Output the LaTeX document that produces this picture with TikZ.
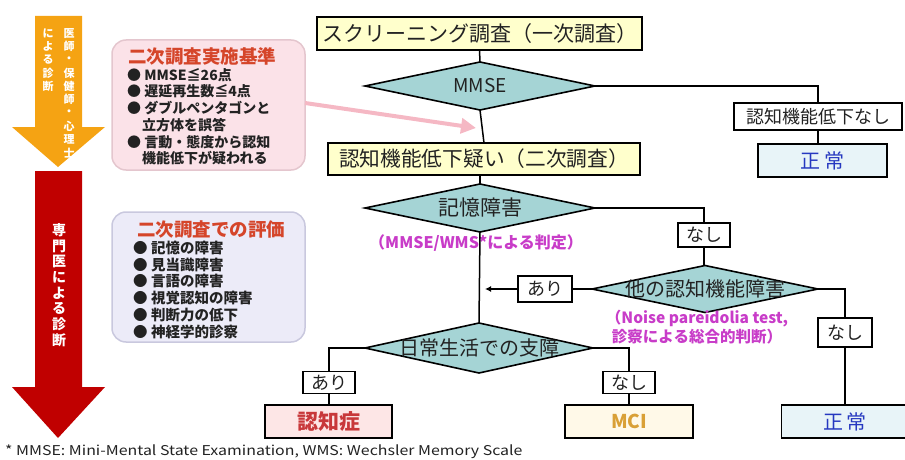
\documentclass[tikz,border=0pt]{standalone}
\usepackage{fontspec}
\setmainfont{Noto Sans CJK JP}
\usetikzlibrary{shapes.geometric,arrows.meta}
\definecolor{orangeA}{HTML}{F5A313}
\definecolor{redA}{HTML}{C00000}
\definecolor{diaF}{HTML}{A5D4D5}
\definecolor{yelF}{HTML}{FFFFCC}
\definecolor{bluF}{HTML}{E8F4F8}
\definecolor{bluT}{HTML}{2638C0}
\definecolor{pnkF}{HTML}{FDE6E6}
\definecolor{redT}{HTML}{C8383A}
\definecolor{mciF}{HTML}{FFF9E8}
\definecolor{mciT}{HTML}{D9A036}
\definecolor{magT}{HTML}{C83CC8}
\definecolor{boxP}{HTML}{FBE2E8}
\definecolor{boxPb}{HTML}{E4C6CE}
\definecolor{boxL}{HTML}{ECEBF8}
\definecolor{boxLb}{HTML}{C9C8DE}
\definecolor{ttlR}{HTML}{D5452A}
\definecolor{arrP}{HTML}{F5B8C4}
\definecolor{txt}{HTML}{222222}
\begin{document}
\begin{tikzpicture}[x=1pt,y=-1pt,
  rect/.style={draw=black, line width=1.8pt, inner sep=0pt, outer sep=0pt, text=txt},
  lbl/.style={rect, fill=white, font=\fontsize{18}{18}\selectfont},
  dia/.style={diamond, draw=black, line width=1.6pt, fill=diaF, inner sep=0pt, outer sep=0pt},
  dtext/.style={font=\fontsize{20}{20}\selectfont, text=txt, inner sep=0pt},
  conn/.style={draw=black, line width=1.5pt},
  note/.style={font=\bfseries\fontsize{16}{18}\selectfont, text=magT, inner sep=0pt},
  item/.style={anchor=west, inner sep=0pt, font=\bfseries\fontsize{14}{14}\selectfont, text=txt},
  ttl/.style={anchor=west, inner sep=0pt, font=\bfseries\fontsize{18.5}{18.5}\selectfont, text=ttlR},
  vchar/.style={inner sep=0pt, text=white, font=\bfseries\fontsize{11}{11}\selectfont},
  vcharB/.style={inner sep=0pt, text=white, font=\bfseries\fontsize{14}{14}\selectfont}
]
\useasboundingbox (0,0) rectangle (905,460);

% side arrows
\fill[orangeA] (35,16) -- (82,16) -- (82,127) -- (105,127) -- (58,167) -- (12,127) -- (35,127) -- cycle;
\fill[redA] (35,171) -- (82,171) -- (82,387) -- (105,387) -- (58,438) -- (12,387) -- (35,387) -- cycle;
\foreach \c [count=\i] in {医,師,・,保,健,師,・,心,理,士}
  \node[vchar] (ova\i) at (69,20+13.3*\i) {\c};
\foreach \c [count=\i] in {に,よ,る,診,断}
  \node[vchar] (ovb\i) at (48,20+13.3*\i) {\c};
\foreach \c [count=\i] in {専,門,医,に,よ,る,診,断}
  \node[vcharB] (rv\i) at (59,215+15.6*\i) {\c};

% info boxes
\draw[draw=boxPb, fill=boxP, line width=1.5pt, rounded corners=14pt] (112,40) rectangle (305,170);
\coordinate (pbox) at (305,103);
\node[ttl] (pt) at (128,56) {二次調査実施基準};
\node[item] (p1) at (127,75) {● MMSE≦26点};
\node[item] (p2) at (127,91.5) {● 遅延再生数≦4点};
\node[item] (p3) at (127,108) {● ダブルペンタゴンと};
\node[item] (p3b) at (142,125) {立方体を誤答};
\node[item] (p4) at (127,142) {● 言動・態度から認知};
\node[item] (p4b) at (142,158.5) {機能低下が疑われる};

\draw[draw=boxLb, fill=boxL, line width=1.5pt, rounded corners=14pt] (112,212) rectangle (305,342);
\node[ttl] (lt) at (137,230) {二次調査での評価};
\node[item, font=\bfseries\fontsize{14.5}{14.5}\selectfont] (l1) at (133,248) {● 記憶の障害};
\node[item, font=\bfseries\fontsize{14.5}{14.5}\selectfont] (l2) at (133,265) {● 見当識障害};
\node[item, font=\bfseries\fontsize{14.5}{14.5}\selectfont] (l3) at (133,281) {● 言語の障害};
\node[item, font=\bfseries\fontsize{14.5}{14.5}\selectfont] (l4) at (133,298) {● 視覚認知の障害};
\node[item, font=\bfseries\fontsize{14.5}{14.5}\selectfont] (l5) at (133,315) {● 判断力の低下};
\node[item, font=\bfseries\fontsize{14.5}{14.5}\selectfont] (l6) at (133,332) {● 神経学的診察};

% pink arrow
\coordinate (pend) at (476,128);
\draw[arrP, line width=4pt, -{Triangle[length=15pt,width=15pt]}] (pbox) -- (pend);

% flow nodes
\node[rect, fill=yelF, minimum width=325, minimum height=33, font=\fontsize{21}{21}\selectfont] (top) at (479.5,33.5) {スクリーニング調査（一次調査）};
\node[dia, minimum width=230, minimum height=48] (d1) at (480,86) {};
\node[dtext, font=\fontsize{19}{19}\selectfont] (d1t) at (d1.center) {MMSE};
\node[lbl, minimum width=168, minimum height=27] (n0) at (818,116.5) {認知機能低下なし};
\node[rect, fill=bluF, text=bluT, minimum width=129, minimum height=33, font=\fontsize{20}{20}\selectfont] (s1) at (822.5,160.5) {正\,常};
\node[rect, fill=yelF, minimum width=312, minimum height=32, font=\fontsize{20.7}{20.7}\selectfont] (q2) at (484,159) {認知機能低下疑い（二次調査）};

\node[dia, minimum width=230, minimum height=48] (d2) at (480,208) {};
\node[dtext, font=\fontsize{21}{21}\selectfont] (d2t) at (d2.center) {記憶障害};
\node[note] (m1) at (476,243) {（MMSE/WMS*による判定）};

\node[lbl, minimum width=52, minimum height=24] (n1) at (704,235) {なし};
\node[dia, minimum width=226, minimum height=47] (d3) at (705,289) {};
\node[dtext] (d3t) at (d3.center) {他の認知機能障害};
\node[note, align=center, font=\bfseries\fontsize{15.5}{19}\selectfont] (m2) at (697,327.5) {（Noise pareidolia test,\\診察による総合的判断）};
\node[lbl, minimum width=54, minimum height=26] (a1) at (545,289) {あり};
\coordinate (aj) at (485,289);
\node[lbl, minimum width=54, minimum height=29] (n2) at (845,332.5) {なし};
\node[rect, fill=bluF, text=bluT, minimum width=127, minimum height=33, font=\fontsize{20}{20}\selectfont] (s2) at (845,421.5) {正\,常};

\node[dia, minimum width=228, minimum height=50] (d4) at (479,348) {};
\node[dtext] (d4t) at (d4.center) {日常生活での支障};
\node[lbl, minimum width=52, minimum height=22] (a2) at (329,382.5) {あり};
\node[lbl, minimum width=52, minimum height=22] (n3) at (629,382.5) {なし};
\node[rect, fill=pnkF, text=redT, minimum width=127, minimum height=33, font=\bfseries\fontsize{21}{21}\selectfont] (dem) at (328.5,421.5) {認知症};
\node[rect, fill=mciF, text=mciT, minimum width=128, minimum height=33, font=\bfseries\fontsize{19}{19}\selectfont] (mci) at (629,421.5) {MCI};

% connectors
\draw[conn] (top.south) -- (d1.north);
\draw[conn] (d1.south) -- (q2.north);
\draw[conn] (d1.east) -| (n0.north);
\draw[conn] (n0.south) -- (n0.south |- s1.north);
\draw[conn] (q2.south -| d2.north) -- (d2.north);
\draw[conn] (d2.south) -- (d4.north);
\draw[conn] (d2.east) -| (n1.north);
\draw[conn] (n1.south) -- (n1.south |- d3.north);
\draw[conn] (d3.west) -- (a1.east);
\draw[conn, -{Latex[length=6pt,width=6pt]}] (a1.west) -- (aj);
\draw[conn] (d3.east) -| (n2.north);
\draw[conn] (n2.south) -- (n2.south |- s2.north);
\draw[conn] (d4.west) -| (a2.north);
\draw[conn] (a2.south) -- (a2.south |- dem.north);
\draw[conn] (d4.east) -| (n3.north);
\draw[conn] (n3.south) -- (mci.north);

% footnote
\node[anchor=west, inner sep=0pt, font=\fontsize{13.5}{13.5}\selectfont, text=txt] (foot) at (5,452) {\scalebox{1.18}[1]{* MMSE: Mini-Mental State Examination, WMS: Wechsler Memory Scale}};
\end{tikzpicture}
\end{document}
